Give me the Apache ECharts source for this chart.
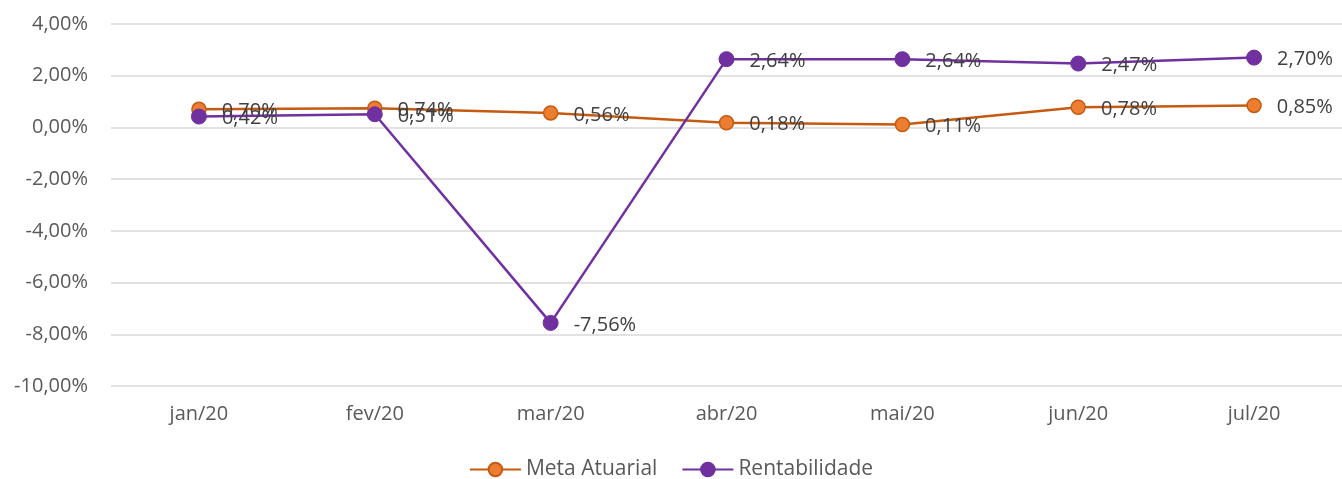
<!DOCTYPE html>
<html>
<head>
<meta charset="utf-8">
<script src="https://cdn.jsdelivr.net/npm/echarts@6/dist/echarts.min.js"></script>
<style>
  html, body { margin: 0; padding: 0; background: #fff; }
  #chart { width: 1342px; height: 479px; }
</style>
</head>
<body>
<div id="chart"></div>
<script>
const months = ["jan/20", "fev/20", "mar/20", "abr/20", "mai/20", "jun/20", "jul/20"];
const metaAtuarial = [0.70, 0.74, 0.56, 0.18, 0.11, 0.78, 0.85];
const rentabilidade = [0.42, 0.51, -7.56, 2.64, 2.64, 2.47, 2.70];

const FONT = "Open Sans";
const pct = (v) => v.toFixed(2).replace(".", ",") + "%";

const chart = echarts.init(document.getElementById("chart"), null, { renderer: "canvas" });

const labelStyle = {
  show: true,
  position: "right",
  distance: 15,
  offset: [0, 2],
  color: "#404040",
  fontFamily: FONT,
  fontSize: 20,
  formatter: (p) => pct(p.value),
};

chart.setOption({
  backgroundColor: "#fff",
  animation: false,
  grid: { left: 111, right: 0, top: 24, bottom: 93 },
  legend: {
    bottom: -1,
    left: "center",
    padding: [0, 5],
    itemWidth: 51,
    itemHeight: 17,
    itemGap: 24,
    textStyle: { color: "#595959", fontFamily: FONT, fontSize: 21 },
    data: ["Meta Atuarial", "Rentabilidade"],
  },
  xAxis: {
    type: "category",
    data: months,
    boundaryGap: true,
    axisLine: { show: false },
    axisTick: { show: false },
    axisLabel: { color: "#595959", fontFamily: FONT, fontSize: 20, margin: 18 },
  },
  yAxis: {
    type: "value",
    min: -10,
    max: 4,
    interval: 2,
    axisLine: { show: false },
    axisTick: { show: false },
    splitLine: { lineStyle: { color: "#d9d9d9", width: 1.5 } },
    axisLabel: {
      color: "#595959",
      fontFamily: FONT,
      fontSize: 20,
      margin: 23,
      formatter: (v) => pct(v),
    },
  },
  series: [
    {
      name: "Meta Atuarial",
      type: "line",
      data: metaAtuarial,
      symbol: "circle",
      symbolSize: 14,
      lineStyle: { color: "#c55a11", width: 2.5 },
      itemStyle: { color: "#ed7d31", borderColor: "#c55a11", borderWidth: 1.5 },
      label: labelStyle,
      z: 2,
    },
    {
      name: "Rentabilidade",
      type: "line",
      data: rentabilidade,
      symbol: "circle",
      symbolSize: 15,
      lineStyle: { color: "#7030a0", width: 2.5 },
      itemStyle: { color: "#7030a0", borderColor: "#7030a0", borderWidth: 1 },
      label: labelStyle,
      z: 3,
    },
  ],
});
</script>
</body>
</html>
